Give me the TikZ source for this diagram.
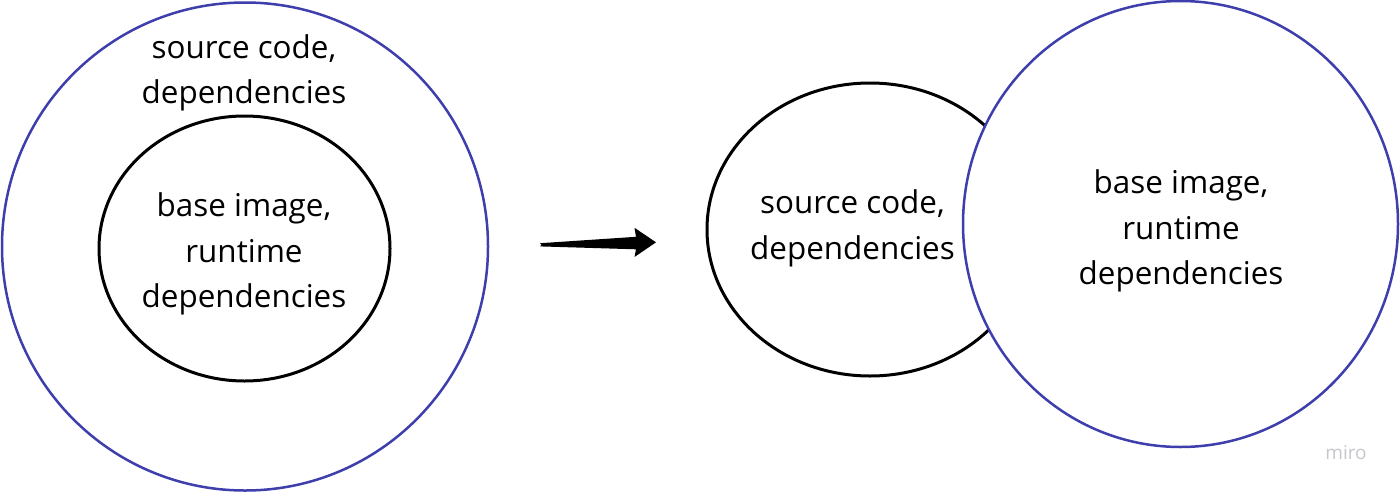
\documentclass[tikz,border=0pt]{standalone}
\usepackage{fontspec}
\setmainfont{Open Sans}
\usetikzlibrary{shapes.geometric}
\definecolor{miroblue}{RGB}{62,62,172}
\definecolor{mirogray}{RGB}{198,198,206}
\begin{document}
\begin{tikzpicture}[x=1pt,y=-1pt,
  bluering/.style={draw=miroblue,line width=2.5pt,ellipse,inner sep=0pt,outer sep=0pt},
  blackring/.style={draw=black,line width=3pt,ellipse,inner sep=0pt,outer sep=0pt},
  lbl/.style={align=center,font=\fontsize{31.4}{45.5}\selectfont,inner sep=0pt}]
\useasboundingbox (0,0) rectangle (1400,493);
% left side
\node[bluering,minimum width=486pt,minimum height=488pt] (outerL) at (245,246.5) {};
\node[blackring,minimum width=291pt,minimum height=265pt] (innerL) at (244.5,248.5) {};
\node[lbl] (txtOuterL) at (244,73) {source code,\\dependencies};
\node[lbl] (txtInnerL) at (244,254) {base image,\\runtime\\dependencies};
% right side
\node[blackring,minimum width=326pt,minimum height=293pt] (srcR) at (870,229.5) {};
\node[bluering,fill=white,minimum width=435pt,minimum height=446pt] (baseR) at (1180.5,224) {};
\node[lbl] (txtSrcR) at (852.5,228.5) {source code,\\dependencies};
\node[lbl] (txtBaseR) at (1181,231) {base image,\\runtime\\dependencies};
% arrow
\coordinate (arrTail) at (540,244.8);
\coordinate (arrTip) at (656,242.3);
\fill[black,line join=round] (arrTail) ++(0,-1.6) -- (636,236.8) -- (634.5,227.8) -- (arrTip) -- (634.5,257) -- (636,249.3) -- (540,246.4) arc[start angle=90,end angle=270,radius=-1.6pt] -- cycle;
% watermark
\node[text=mirogray,font=\fontsize{19}{19}\selectfont,inner sep=0pt] (miro) at (1346,453) {miro};
\end{tikzpicture}
\end{document}
